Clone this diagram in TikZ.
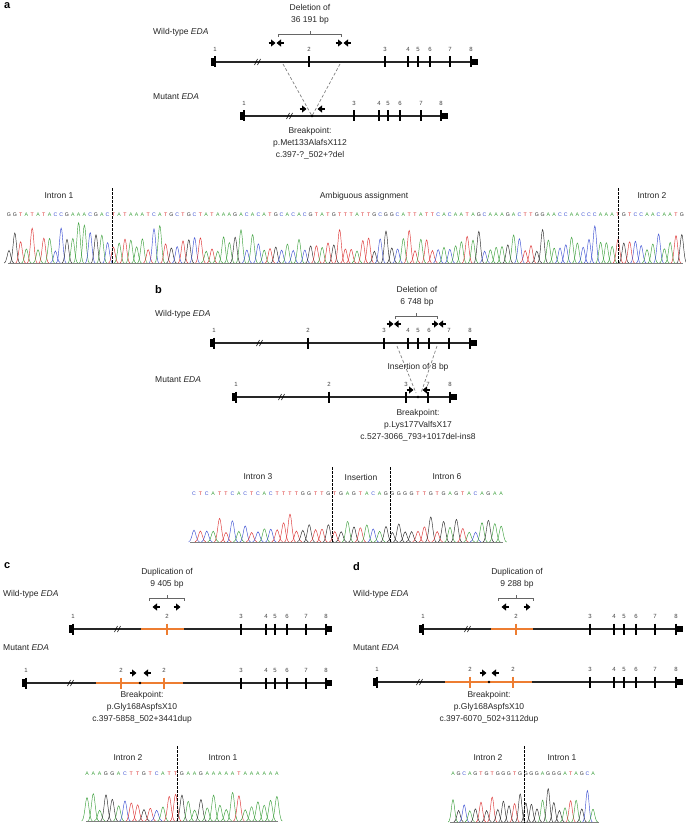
\documentclass[tikz,border=0pt]{standalone}
\usepackage{fontspec}
\setmainfont{Liberation Sans}
\usetikzlibrary{arrows.meta}

\definecolor{baseA}{RGB}{60,160,60}
\definecolor{baseC}{RGB}{60,80,210}
\definecolor{baseG}{RGB}{40,40,40}
\definecolor{baseT}{RGB}{220,50,50}
\definecolor{dupcol}{RGB}{237,125,49}

% gene line: name, start x, end x, y, exons x/number/style
\newcommand{\edagene}[5]{%
  \draw[gene] (#2,#4) -- (#3,#4);
  \fill[black] (#2,#4-4) rectangle (#2+4.5,#4+4);
  \fill[black] (#3-7,#4-3) rectangle (#3,#4+3);
  \foreach \x/\n/\s [count=\k] in {#5} {
    \draw[\s] (\x,#4-5.5) -- (\x,#4+5.5);
    \node[num] (#1-\k) at (\x,#4-13) {\n};
  }
}
\newcommand{\genebreak}[2]{%
  \draw[line width=0.6pt] (#1-3.5,#2+3) -- (#1-0.5,#2-3);
  \draw[line width=0.6pt] (#1-0.5,#2+3) -- (#1+2.5,#2-3);
}
\newcommand{\fwdprimer}[2]{\draw[primer] (#1-3.5,#2) -- (#1+3.5,#2);}
\newcommand{\revprimer}[2]{\draw[primer] (#1+3.5,#2) -- (#1-3.5,#2);}
% trace: name, x0, dx, baseline y, text y, max height, bases
\newcommand{\chromat}[7]{%
  \foreach \nt [count=\i] in {#7} {
    \pgfmathsetmacro\px{#2+(\i-1)*#3}
    \pgfmathsetmacro\pw{0.85*#3}
    \pgfmathsetmacro\ph{#6*(0.28+0.72*rnd*rnd)}
    \node[seq, text=base\nt] (#1-\i) at (\px,#5) {\nt};
    \draw[trace, draw=base\nt] (\px-\pw,#4) .. controls (\px-0.45*\pw,#4) and (\px-0.28*\pw,#4-\ph) .. (\px,#4-\ph)
      .. controls (\px+0.28*\pw,#4-\ph) and (\px+0.45*\pw,#4) .. (\px+\pw,#4);
  }
}

\begin{document}
\begin{tikzpicture}[x=1pt, y=-1pt,
    gene/.style={line width=1.1pt, black!85},
    exon/.style={line width=2pt, black},
    dupexon/.style={line width=2pt, dupcol},
    dupseg/.style={line width=2.2pt, dupcol},
    num/.style={font=\fontsize{6}{6}\selectfont, text=black!75, inner sep=0pt},
    lbl/.style={font=\fontsize{8.5}{12}\selectfont, text=black!85, inner sep=0pt, align=center},
    panel/.style={font=\fontsize{11}{12}\selectfont\bfseries, inner sep=0pt, anchor=north west},
    primer/.style={-{Triangle[length=4.5pt,width=7pt]}, line width=2.6pt},
    junction/.style={gray, line width=0.7pt, dash pattern=on 3pt off 2pt},
    cutline/.style={black, line width=1pt, dash pattern=on 2.5pt off 1.5pt},
    span/.style={line width=0.6pt, black!60},
    seq/.style={font=\fontsize{5.2}{5}\selectfont, inner sep=0pt},
    trace/.style={line width=0.45pt},
    axis/.style={line width=0.6pt, black!50}
]
\useasboundingbox (0,0) rectangle (685,824);
\pgfmathsetseed{3}

% ---------- a ----------
\node[panel] (pa) at (4,2) {a};
\node[lbl] (a-del) at (310,14.5) {Deletion of\\36 191 bp};
\draw[span] (278,37) -- (278,34) -- (341,34) -- (341,37);
\draw[span] (310,34) -- (310,31);
\node[lbl, anchor=west] (a-wtlbl) at (153,32) {Wild-type \textit{EDA}};
\node[lbl, anchor=west] (a-mutlbl) at (153,97) {Mutant \textit{EDA}};
\edagene{a-wx}{211}{478}{62}{215/1/exon,309/2/exon,385/3/exon,408/4/exon,418/5/exon,430/6/exon,450/7/exon,471/8/exon}
\genebreak{258}{62}
\fwdprimer{272}{43} \revprimer{280}{43}
\fwdprimer{339}{43} \revprimer{347}{43}
\edagene{a-mx}{240}{448}{116}{244/1/exon,354/3/exon,379/4/exon,388/5/exon,400/6/exon,421/7/exon,441/8/exon}
\genebreak{290}{116}
\fwdprimer{303}{109} \revprimer{321}{109}
\coordinate (a-bp) at (312,116);
\coordinate (a-d1) at (283,64);
\coordinate (a-d2) at (340,64);
\draw[junction] (a-d1) -- (a-bp);
\draw[junction] (a-d2) -- (a-bp);
\fill (a-bp) circle (1.3pt);
\node[lbl] (a-brk) at (310,143) {Breakpoint:\\p.Met133AlafsX112\\c.397-?\_502+?del};

\node[lbl] (a-i1) at (59,196) {Intron 1};
\node[lbl] (a-amb) at (364,196) {Ambiguous assignment};
\node[lbl] (a-i2) at (652,196) {Intron 2};
\draw[axis] (8,263) -- (683,263);
\chromat{a-s}{9}{5.8}{263}{215}{42}{G,G,T,A,T,A,T,A,C,C,G,A,A,A,C,G,A,C,
  T,A,T,A,A,A,T,C,A,T,G,C,T,G,C,T,A,T,A,A,A,G,A,C,A,C,A,T,G,C,A,C,A,C,G,T,A,T,G,T,
  T,T,A,T,T,G,C,G,G,C,A,T,T,A,T,T,C,A,C,A,A,T,A,G,C,A,A,A,G,A,C,T,T,G,G,A,A,C,C,A,
  A,C,C,C,A,A,A,T,G,T,C,C,A,A,C,A,A,T,G}
\draw[cutline] (112,188) -- (112,264);
\draw[cutline] (618,188) -- (618,264);

% ---------- b ----------
\node[panel] (pb) at (155,285) {b};
\node[lbl] (b-del) at (417,296.5) {Deletion of\\6 748 bp};
\draw[span] (395,319) -- (395,316) -- (437,316) -- (437,319);
\draw[span] (416,316) -- (416,313);
\node[lbl, anchor=west] (b-wtlbl) at (155,314) {Wild-type \textit{EDA}};
\node[lbl, anchor=west] (b-mutlbl) at (155,380) {Mutant \textit{EDA}};
\edagene{b-wx}{210}{477}{343}{214/1/exon,308/2/exon,384/3/exon,408/4/exon,418/5/exon,429/6/exon,449/7/exon,470/8/exon}
\genebreak{260}{343}
\fwdprimer{390}{324} \revprimer{397.5}{324}
\fwdprimer{435}{324} \revprimer{442}{324}
\edagene{b-mx}{232}{457}{397}{236/1/exon,329/2/exon,406/3/exon,428/7/exon,450/8/exon}
\genebreak{282}{397}
\coordinate (b-bp) at (418,397);
\coordinate (b-d1) at (397,346);
\coordinate (b-d2) at (437,346);
\coordinate (b-e1) at (416,393);
\coordinate (b-e2) at (421,393);
\draw[junction] (b-d1) -- (b-e1);
\draw[junction] (b-d2) -- (b-e2);
\node[lbl] (b-ins) at (418,367) {Insertion of 8 bp};
\fwdprimer{410}{390} \revprimer{426}{390}
\fill (b-bp) circle (1.3pt);
\node[lbl] (b-brk) at (418,425) {Breakpoint:\\p.Lys177ValfsX17\\c.527-3066\_793+1017del-ins8};

\node[lbl] (b-i3) at (258,477) {Intron 3};
\node[lbl] (b-ins2) at (361,477) {Insertion};
\node[lbl] (b-i6) at (447,477) {Intron 6};
\draw[axis] (190,542) -- (503,542);
\chromat{b-s}{194}{6.4}{542}{494}{34}{C,T,C,A,T,T,C,A,C,T,C,A,C,T,T,T,T,G,G,T,T,G,
  T,G,A,G,T,A,C,A,G,G,G,G,G,T,T,G,T,G,A,G,T,A,C,A,G,A,A}
\draw[cutline] (332,467) -- (332,543);
\draw[cutline] (390,467) -- (390,543);

% ---------- c ----------
\node[panel] (pc) at (4,562) {c};
\node[lbl] (c-dup) at (167,578.5) {Duplication of\\9 405 bp};
\draw[span] (149,601) -- (149,598) -- (184,598) -- (184,601);
\draw[span] (167,598) -- (167,595);
\node[lbl, anchor=west] (c-wtlbl) at (3,594) {Wild-type \textit{EDA}};
\revprimer{156}{607} \fwdprimer{177}{607}
\edagene{c-wx}{69}{332}{629}{73/1/exon,167/2/dupexon,241/3/exon,266/4/exon,275/5/exon,287/6/exon,306/7/exon,326/8/exon}
\draw[dupseg] (141,629) -- (184,629);
\genebreak{118}{629}
\node[lbl, anchor=west] (c-mutlbl) at (3,648) {Mutant \textit{EDA}};
\edagene{c-mx}{22}{332}{683}{26/1/exon,121/2/dupexon,164/2/dupexon,241/3/exon,266/4/exon,275/5/exon,287/6/exon,306/7/exon,326/8/exon}
\draw[dupseg] (96,683) -- (183,683);
\genebreak{71}{683}
\fwdprimer{133}{673} \revprimer{147}{673}
\coordinate (c-bp) at (140,683);
\fill (c-bp) circle (1.3pt);
\node[lbl] (c-brk) at (142,707) {Breakpoint:\\p.Gly168AspfsX10\\c.397-5858\_502+3441dup};

\node[lbl] (c-i2) at (128,758) {Intron 2};
\node[lbl] (c-i1) at (223,758) {Intron 1};
\draw[axis] (86,821) -- (278,821);
\chromat{c-s}{87}{6.33}{821}{774}{38}{A,A,A,G,G,A,C,T,T,G,T,C,A,T,T,
  G,A,A,G,A,A,A,A,A,T,A,A,A,A,A,A}
\draw[cutline] (177,746) -- (177,822);

% ---------- d ----------
\node[panel] (pd) at (353,562) {d};
\node[lbl] (d-dup) at (517,578.5) {Duplication of\\9 288 bp};
\draw[span] (498,601) -- (498,598) -- (533,598) -- (533,601);
\draw[span] (516,598) -- (516,595);
\node[lbl, anchor=west] (d-wtlbl) at (353,594) {Wild-type \textit{EDA}};
\revprimer{505}{607} \fwdprimer{527}{607}
\edagene{d-wx}{419}{683}{629}{423/1/exon,516/2/dupexon,590/3/exon,614/4/exon,624/5/exon,636/6/exon,655/7/exon,676/8/exon}
\draw[dupseg] (491,629) -- (533,629);
\genebreak{468}{629}
\node[lbl, anchor=west] (d-mutlbl) at (353,648) {Mutant \textit{EDA}};
\edagene{d-mx}{373}{683}{682}{377/1/exon,470/2/dupexon,513/2/dupexon,590/3/exon,614/4/exon,624/5/exon,636/6/exon,655/7/exon,676/8/exon}
\draw[dupseg] (445,682) -- (532,682);
\genebreak{420}{682}
\fwdprimer{483}{673} \revprimer{495}{673}
\coordinate (d-bp) at (489,682);
\fill (d-bp) circle (1.3pt);
\node[lbl] (d-brk) at (489,707) {Breakpoint:\\p.Gly168AspfsX10\\c.397-6070\_502+3112dup};

\node[lbl] (d-i2) at (488,758) {Intron 2};
\node[lbl] (d-i1) at (562,758) {Intron 1};
\draw[axis] (450,822) -- (599,822);
\chromat{d-s}{453}{5.6}{822}{774}{40}{A,G,C,A,G,T,G,T,G,G,G,T,G,
  G,G,G,A,G,G,G,A,T,A,G,C,A}
\draw[cutline] (524,746) -- (524,823);
\end{tikzpicture}
\end{document}
